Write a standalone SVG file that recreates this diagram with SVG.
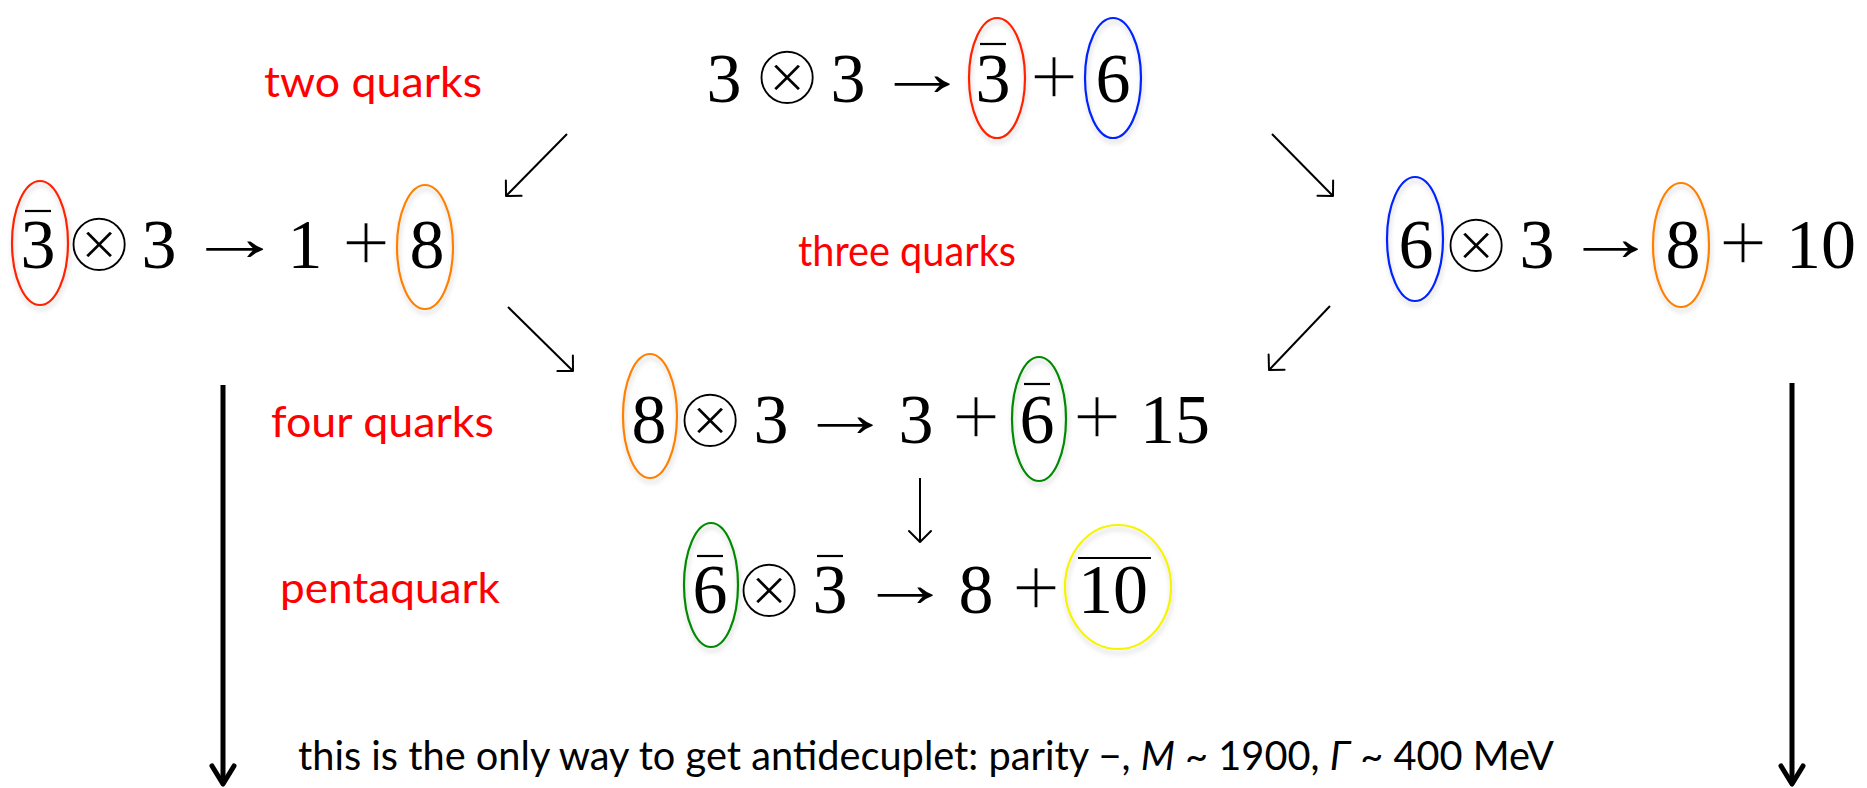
<svg xmlns="http://www.w3.org/2000/svg" width="1867" height="788" viewBox="0 0 1867 788">
<style>
.d{font-family:"Liberation Serif",serif;font-size:70px;text-anchor:middle;fill:#000}
.ot{font-family:"DejaVu Sans",sans-serif;font-size:88px;text-anchor:middle;fill:#000;stroke:#fff;stroke-width:4.5}
.ar{font-family:"Liberation Serif",serif;font-size:66px;fill:#000}
.pl{font-family:"Liberation Serif",serif;font-size:86px;text-anchor:middle;fill:#000;stroke:#fff;stroke-width:1.4}
.lbl{font-family:Lato,"Open Sans",sans-serif;font-size:42px;fill:#ff0000}
.bt{font-family:Lato,"Open Sans",sans-serif;font-size:40px;fill:#000}
.bar{stroke:#000;stroke-width:2.2}
.ell{fill:none;stroke-width:2.2;filter:url(#sh)}
.conn{stroke:#000;stroke-width:2;fill:none}
.big{stroke:#000;stroke-width:5;fill:none}
</style>
<defs>
<filter id="sh" x="-30%" y="-20%" width="160%" height="150%">
<feDropShadow dx="1" dy="4" stdDeviation="2.5" flood-color="#000" flood-opacity="0.18"/>
</filter>
<marker id="ah" markerUnits="userSpaceOnUse" markerWidth="30" markerHeight="30" orient="auto" overflow="visible">
<path d="M-11,-11 L0,0 L-11,11" fill="none" stroke="#000" stroke-width="2" stroke-linecap="round" stroke-linejoin="round"/>
</marker>
<marker id="bh" markerUnits="userSpaceOnUse" markerWidth="40" markerHeight="40" orient="auto" overflow="visible">
<path d="M-18,-11 L0,0 L-18,11" fill="none" stroke="#000" stroke-width="5" stroke-linecap="round" stroke-linejoin="round"/>
</marker>
</defs>

<g id="labels">
<text class="lbl" x="264" y="97" textLength="218" lengthAdjust="spacingAndGlyphs">two quarks</text>
<text class="lbl" x="798" y="266" textLength="218" lengthAdjust="spacingAndGlyphs">three quarks</text>
<text class="lbl" x="271" y="437" textLength="223" lengthAdjust="spacingAndGlyphs">four quarks</text>
<text class="lbl" x="280" y="603" textLength="220" lengthAdjust="spacingAndGlyphs">pentaquark</text>
</g>

<g id="eq-top">
<text class="d" x="724" y="102">3</text>
<text class="ot" x="787" y="105">⊗</text>
<text class="d" x="848" y="102">3</text>
<text class="ar" x="876" y="95" textLength="93" lengthAdjust="spacingAndGlyphs">→</text>
<text class="d" x="993" y="102">3</text>
<line class="bar" x1="980" y1="44" x2="1006" y2="44"/>
<text class="pl" x="1054" y="106">+</text>
<text class="d" x="1113" y="102">6</text>
<ellipse class="ell" cx="997" cy="78" rx="28" ry="60" stroke="#ff2200"/>
<ellipse class="ell" cx="1113" cy="78" rx="28" ry="60" stroke="#0022ff"/>
</g>

<g id="eq-left">
<text class="d" x="38" y="268">3</text>
<line class="bar" x1="25" y1="211" x2="51" y2="211"/>
<text class="ot" x="99" y="272">⊗</text>
<text class="d" x="159" y="268">3</text>
<text class="ar" x="187" y="260" textLength="96" lengthAdjust="spacingAndGlyphs">→</text>
<text class="d" x="305" y="268">1</text>
<text class="pl" x="366" y="272">+</text>
<text class="d" x="427" y="268">8</text>
<ellipse class="ell" cx="40" cy="243" rx="28" ry="62" stroke="#ff2200"/>
<ellipse class="ell" cx="425" cy="247" rx="28" ry="62" stroke="#ff8000"/>
</g>

<g id="eq-right">
<text class="d" x="1416" y="268">6</text>
<text class="ot" x="1476" y="273">⊗</text>
<text class="d" x="1537" y="268">3</text>
<text class="ar" x="1565" y="260" textLength="92" lengthAdjust="spacingAndGlyphs">→</text>
<text class="d" x="1683" y="268">8</text>
<text class="pl" x="1743" y="272">+</text>
<text class="d" x="1821" y="268">10</text>
<ellipse class="ell" cx="1415" cy="239" rx="28" ry="62" stroke="#0022ff"/>
<ellipse class="ell" cx="1681" cy="245" rx="28" ry="62" stroke="#ff8000"/>
</g>

<g id="eq-middle">
<text class="d" x="649" y="443">8</text>
<text class="ot" x="710" y="448">⊗</text>
<text class="d" x="771" y="443">3</text>
<text class="ar" x="799" y="436" textLength="93" lengthAdjust="spacingAndGlyphs">→</text>
<text class="d" x="916" y="443">3</text>
<text class="pl" x="976" y="446">+</text>
<text class="d" x="1037" y="443">6</text>
<line class="bar" x1="1024" y1="384" x2="1050" y2="384"/>
<text class="pl" x="1097" y="446">+</text>
<text class="d" x="1175" y="443">15</text>
<ellipse class="ell" cx="650" cy="416" rx="27" ry="62" stroke="#ff8000"/>
<ellipse class="ell" cx="1039" cy="419" rx="27" ry="62" stroke="#008a00"/>
</g>

<g id="eq-penta">
<text class="d" x="710" y="613">6</text>
<line class="bar" x1="697" y1="556" x2="723" y2="556"/>
<text class="ot" x="769" y="618">⊗</text>
<text class="d" x="830" y="613">3</text>
<line class="bar" x1="817" y1="556" x2="843" y2="556"/>
<text class="ar" x="859" y="606" textLength="93" lengthAdjust="spacingAndGlyphs">→</text>
<text class="d" x="976" y="613">8</text>
<text class="pl" x="1036" y="617">+</text>
<text class="d" x="1113" y="613">10</text>
<line class="bar" x1="1078" y1="558" x2="1151" y2="558"/>
<ellipse class="ell" cx="711" cy="585" rx="27" ry="62" stroke="#008a00"/>
<ellipse class="ell" cx="1118" cy="587" rx="53" ry="62" stroke="#f5f500"/>
</g>

<g id="note">
<text class="bt" x="298" y="770" textLength="1256" lengthAdjust="spacingAndGlyphs">this is the only way to get antidecuplet: parity −, <tspan font-style="italic">M</tspan> ~ 1900, <tspan font-style="italic">Γ</tspan> ~ 400 MeV</text>
</g>

<g id="connectors">
<line class="conn" x1="567" y1="134" x2="506" y2="196" marker-end="url(#ah)"/>
<line class="conn" x1="1272" y1="134" x2="1333" y2="196" marker-end="url(#ah)"/>
<line class="conn" x1="508" y1="307" x2="573" y2="371" marker-end="url(#ah)"/>
<line class="conn" x1="1330" y1="306" x2="1269" y2="370" marker-end="url(#ah)"/>
<line class="conn" x1="920" y1="478" x2="920" y2="542" marker-end="url(#ah)"/>
<line class="big" x1="223" y1="385" x2="223" y2="784" marker-end="url(#bh)"/>
<line class="big" x1="1792" y1="383" x2="1792" y2="784" marker-end="url(#bh)"/>
</g>
</svg>
